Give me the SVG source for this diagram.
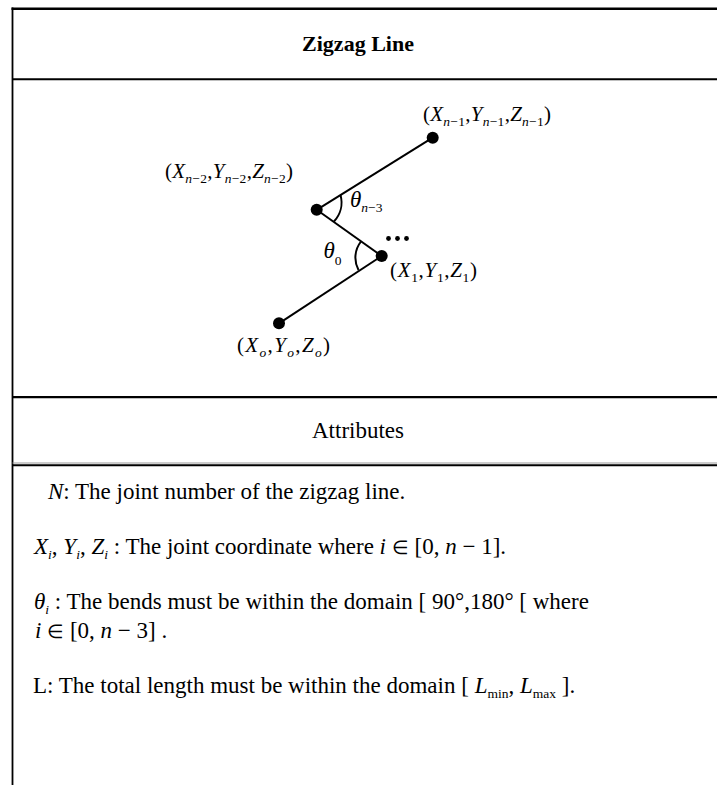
<svg xmlns="http://www.w3.org/2000/svg" width="717" height="785" viewBox="0 0 717 785">
<style>
.t{font-family:"Liberation Serif","Times New Roman",serif;fill:#000}
.h{font-size:22px;font-weight:bold}
.b{font-size:23px}
.m{font-size:21px}
.i{font-style:italic}
.s{font-size:13.5px}
.el{font-size:19px}
.edge{stroke:#000;stroke-width:2;fill:none}
.frame{stroke:#000;fill:none}
.dot{fill:#000}
</style>
<rect width="717" height="785" fill="#fff"/>
<g id="frame">
<line class="frame" x1="12.5" y1="7.5" x2="12.5" y2="785" stroke-width="1.8"/>
<line class="frame" x1="11.5" y1="8.7" x2="717" y2="8.7" stroke-width="2.6"/>
<line class="frame" x1="12.5" y1="79.2" x2="717" y2="79.2" stroke-width="2"/>
<line class="frame" x1="12.5" y1="397.2" x2="717" y2="397.2" stroke-width="2.3"/>
<line x1="12.5" y1="463" x2="717" y2="463" stroke="#999" stroke-width="1"/>
<line class="frame" x1="12.5" y1="465.3" x2="717" y2="465.3" stroke-width="2"/>
</g>
<g id="title"><text class="t h" x="358" y="51" text-anchor="middle">Zigzag Line</text></g>
<g id="connectors">
<line class="edge" x1="279" y1="323.3" x2="381.7" y2="256"/>
<line class="edge" x1="381.7" y1="256" x2="316.7" y2="209.8"/>
<line class="edge" x1="316.7" y1="209.8" x2="432.7" y2="137.7"/>
<path class="edge" d="M 340.5 195 A 28 28 0 0 1 334 221.5"/>
<path class="edge" d="M 361 241.5 A 26 26 0 0 0 358.5 270"/>
</g>
<g id="node-p0">
<circle class="dot" cx="279" cy="323.3" r="6"/>
<text class="t m" x="237" y="352" textLength="93">(<tspan class="i">X</tspan><tspan class="s i" dy="5">o</tspan><tspan dy="-5">,</tspan><tspan class="i">Y</tspan><tspan class="s i" dy="5">o</tspan><tspan dy="-5">,</tspan><tspan class="i">Z</tspan><tspan class="s i" dy="5">o</tspan><tspan dy="-5">)</tspan></text>
</g>
<g id="node-p1">
<circle class="dot" cx="381.7" cy="256" r="6"/>
<text class="t m" x="390" y="277" textLength="87">(<tspan class="i">X</tspan><tspan class="s" dy="5">1</tspan><tspan dy="-5">,</tspan><tspan class="i">Y</tspan><tspan class="s" dy="5">1</tspan><tspan dy="-5">,</tspan><tspan class="i">Z</tspan><tspan class="s" dy="5">1</tspan><tspan dy="-5">)</tspan></text>
</g>
<g id="node-pn2">
<circle class="dot" cx="316.7" cy="209.8" r="6"/>
<text class="t m" x="165" y="178" textLength="128">(<tspan class="i">X</tspan><tspan class="s" dy="5"><tspan class="i">n</tspan>−2</tspan><tspan dy="-5">,</tspan><tspan class="i">Y</tspan><tspan class="s" dy="5"><tspan class="i">n</tspan>−2</tspan><tspan dy="-5">,</tspan><tspan class="i">Z</tspan><tspan class="s" dy="5"><tspan class="i">n</tspan>−2</tspan><tspan dy="-5">)</tspan></text>
</g>
<g id="node-pn1">
<circle class="dot" cx="432.7" cy="137.7" r="6"/>
<text class="t m" x="423" y="121" textLength="128">(<tspan class="i">X</tspan><tspan class="s" dy="5"><tspan class="i">n</tspan>−1</tspan><tspan dy="-5">,</tspan><tspan class="i">Y</tspan><tspan class="s" dy="5"><tspan class="i">n</tspan>−1</tspan><tspan dy="-5">,</tspan><tspan class="i">Z</tspan><tspan class="s" dy="5"><tspan class="i">n</tspan>−1</tspan><tspan dy="-5">)</tspan></text>
</g>
<g id="angles">
<text class="t i" x="350" y="206.5" font-size="23">θ<tspan class="s" dy="5"><tspan class="i">n</tspan><tspan font-style="normal">−3</tspan></tspan></text>
<text class="t i" x="323.5" y="258" font-size="23">θ<tspan class="s" font-style="normal" dy="7">0</tspan></text>
</g>
<g id="ellipsis">
<circle class="dot" cx="388.5" cy="238.5" r="2.4"/>
<circle class="dot" cx="397.5" cy="238.5" r="2.4"/>
<circle class="dot" cx="406.5" cy="238.5" r="2.4"/>
</g>
<g id="attributes-header"><text class="t b" x="358" y="438" text-anchor="middle">Attributes</text></g>
<g id="attributes">
<text class="t b" x="48" y="499"><tspan class="i">N</tspan>: The joint number of the zigzag line.</text>
<text class="t b" x="34" y="554"><tspan class="i">X</tspan><tspan class="s i" dy="5">i</tspan><tspan dy="-5">, </tspan><tspan class="i">Y</tspan><tspan class="s i" dy="5">i</tspan><tspan dy="-5">, </tspan><tspan class="i">Z</tspan><tspan class="s i" dy="5">i</tspan><tspan dy="-5"> : The joint coordinate where </tspan><tspan class="i">i</tspan> <tspan class="el">∈</tspan> [0, <tspan class="i">n</tspan> − 1].</text>
<text class="t b" x="34" y="609"><tspan class="i">θ</tspan><tspan class="s i" dy="5">i</tspan><tspan dy="-5"> : The bends must be within the domain [ 90°,180° [ where</tspan></text>
<text class="t b" x="35" y="638"><tspan class="i">i</tspan> <tspan class="el">∈</tspan> [0, <tspan class="i">n</tspan> − 3] .</text>
<text class="t b" x="33" y="693">L: The total length must be within the domain [ <tspan class="i">L</tspan><tspan class="s" dy="5">min</tspan><tspan dy="-5">, </tspan><tspan class="i">L</tspan><tspan class="s" dy="5">max</tspan><tspan dy="-5"> ].</tspan></text>
</g>
</svg>
